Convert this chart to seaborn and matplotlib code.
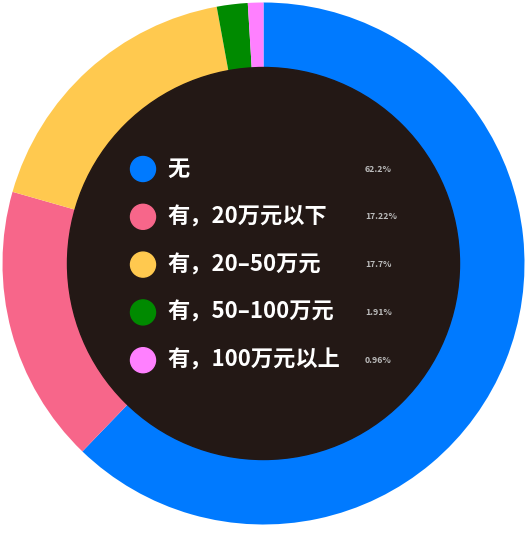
import numpy as np
import matplotlib
matplotlib.use("Agg")
import matplotlib.pyplot as plt
import seaborn as sns
from matplotlib.patches import Circle

# data
categories = ["无", "有，20万元以下", "有，20–50万元", "有，50–100万元", "有，100万元以上"]
shares = [62.2, 17.22, 17.7, 1.91, 0.96]
share_labels = ["62.2%", "17.22%", "17.7%", "1.91%", "0.96%"]
colors = ["#007AFF", "#F7668A", "#FFC94F", "#008A00", "#FF80FF"]

sns.set_theme(style="white")
plt.rcParams['font.family'] = ['Noto Sans CJK SC', 'DejaVu Sans']

W, H = 525, 540
fig = plt.figure(figsize=(W / 100, H / 100), dpi=100)
ax = fig.add_axes([0, 0, 1, 1])

# pixel-like coordinates (y measured from the bottom)
cx, cy = 263.5, H - 263.5
r_out, r_in = 261, 196

ax.pie(shares, colors=colors, startangle=90, counterclock=False,
       center=(cx, cy), radius=r_out,
       wedgeprops=dict(width=r_out - r_in + 2, linewidth=0))
ax.add_patch(Circle((cx, cy), r_in, color="#231815", zorder=3))

ax.set_xlim(0, W)
ax.set_ylim(0, H)
ax.set_aspect("equal")
ax.axis("off")

# legend inside the dark circle
y0, step = H - 169, 47.8
for i, (cat, lab, col) in enumerate(zip(categories, share_labels, colors)):
    y = y0 - i * step
    ax.add_patch(Circle((143, y), 12.5, color=col, zorder=4))
    ax.text(167, y, cat, color="white", fontsize=16, fontweight="bold",
            va="center", ha="left", zorder=5)
    ax.text(365, y, lab, color="#BBBBBB", fontsize=6.3, fontweight="bold",
            va="center", ha="left", zorder=5)

fig.savefig("out.png", dpi=100, facecolor="white")
